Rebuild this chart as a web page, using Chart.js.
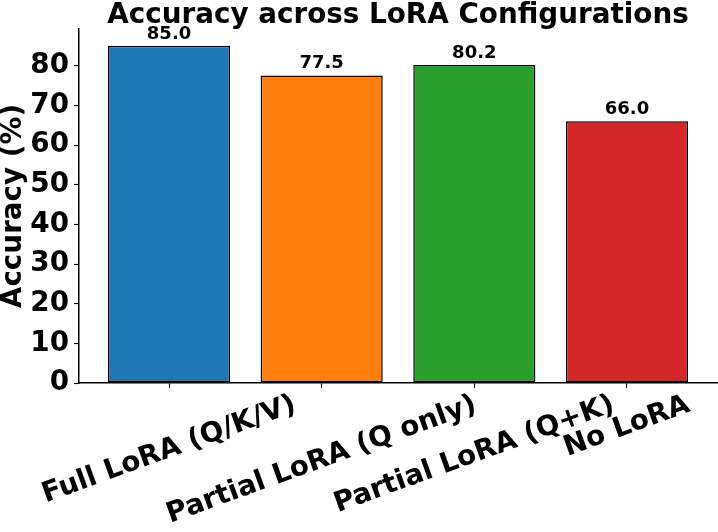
<!DOCTYPE html>
<html><head><meta charset="utf-8">
<script src="https://cdn.jsdelivr.net/npm/chart.js@4/dist/chart.umd.min.js"></script>
<style>html,body{margin:0;padding:0;background:#fff}#wrap{width:718px;height:532px}</style>
</head><body><div id="wrap"><canvas id="c" width="718" height="532"></canvas></div>
<script>
const categories = ['Full LoRA (Q/K/V)', 'Partial LoRA (Q only)', 'Partial LoRA (Q+K)', 'No LoRA'];
const accuracy = [85.0, 77.5, 80.2, 66.0];
const barColors = ['#1f77b4', '#ff7f0e', '#2ca02c', '#d62728'];
const yTicks = [0, 10, 20, 30, 40, 50, 60, 70, 80];
const chartTitle = 'Accuracy across LoRA Configurations';
const yAxisTitle = 'Accuracy (%)';

const FONT = "'DejaVu Sans', sans-serif";
const BIG = 27.8;

const valueLabels = {
  id: 'valueLabels',
  afterDatasetsDraw(chart) {
    const ctx = chart.ctx, meta = chart.getDatasetMeta(0), ys = chart.scales.y;
    ctx.save();
    ctx.font = `bold 18px ${FONT}`;
    ctx.fillStyle = '#000';
    ctx.textAlign = 'center';
    ctx.textBaseline = 'bottom';
    meta.data.forEach((bar, i) => {
      ctx.fillText(accuracy[i].toFixed(1), bar.x, ys.getPixelForValue(accuracy[i] + 1) + 1);
    });
    ctx.restore();
  }
};

const rotatedLabels = {
  id: 'rotatedLabels',
  afterDraw(chart) {
    const ctx = chart.ctx, xs = chart.scales.x;
    const ang = 20 * Math.PI / 180;
    ctx.save();
    ctx.font = `bold ${BIG}px ${FONT}`;
    ctx.fillStyle = '#000';
    ctx.textAlign = 'center';
    ctx.textBaseline = 'alphabetic';
    const top = chart.chartArea.bottom + 8;
    categories.forEach((lab, i) => {
      const w = ctx.measureText(lab).width, h = BIG * 1.0;
      const H = w * Math.sin(ang) + h * Math.cos(ang);
      const cx = xs.getPixelForValue(i), cy = top + H / 2;
      ctx.save();
      ctx.translate(cx, cy);
      ctx.rotate(-ang);
      ctx.fillText(lab, 0, 0.26 * BIG);
      ctx.restore();
    });
    ctx.restore();
  }
};

new Chart(document.getElementById('c'), {
  type: 'bar',
  data: {
    datasets: [{
      data: accuracy.map((v, i) => ({ x: i, y: v })),
      backgroundColor: barColors,
      borderColor: '#000',
      borderWidth: 1.5,
      borderSkipped: false,
      categoryPercentage: 0.8,
      barPercentage: 1.0
    }]
  },
  options: {
    responsive: false,
    animation: false,
    devicePixelRatio: 1,
    layout: { padding: { left: 0, right: 1, top: 0, bottom: 0 } },
    plugins: {
      legend: { display: false },
      tooltip: { enabled: false },
      title: {
        display: true,
        text: chartTitle,
        fullSize: false,
        color: '#000',
        font: { family: FONT, size: BIG, weight: 'bold', lineHeight: 1.0 },
        padding: { top: 2, bottom: -0.8 }
      }
    },
    scales: {
      x: {
        type: 'linear',
        offset: false,
        min: -0.59,
        max: 3.59,
        afterBuildTicks(s) { s.ticks = categories.map((c, i) => ({ value: i })); },
        afterFit(s) { s.height = 149; },
        grid: { display: true, offset: false, drawOnChartArea: false, drawTicks: true, tickLength: 5, tickColor: '#000', tickWidth: 1.1 },
        border: { display: true, color: '#000', width: 1.5 },
        ticks: { display: false }
      },
      y: {
        type: 'linear',
        min: 0,
        max: 89.25,
        afterBuildTicks(s) { s.ticks = yTicks.map(v => ({ value: v })); },
        afterFit(s) { s.width = 79; },
        grid: { display: true, drawOnChartArea: false, drawTicks: true, tickLength: 5, tickColor: '#000', tickWidth: 1.1 },
        border: { display: true, color: '#000', width: 1.5 },
        ticks: { color: '#000', padding: 5, font: { family: FONT, size: BIG, weight: 'bold' } },
        title: {
          display: true,
          text: yAxisTitle,
          color: '#000',
          padding: { top: 0, bottom: 0 },
          font: { family: FONT, size: BIG, weight: 'bold', lineHeight: 1.0 }
        }
      }
    }
  },
  plugins: [valueLabels, rotatedLabels]
});
</script>
</body></html>
